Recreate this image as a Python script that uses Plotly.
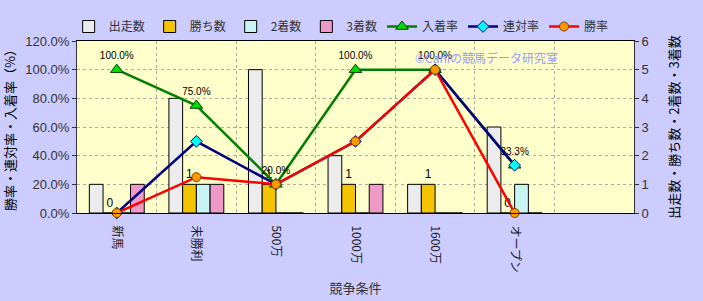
import plotly.graph_objects as go

categories = ["新馬", "未勝利", "500万", "1000万", "1600万", "オープン"]
starts = [1, 4, 5, 2, 1, 3]
wins = [0, 1, 1, 1, 1, 0]
seconds = [0, 1, 0, 0, 0, 1]
thirds = [1, 1, 0, 1, 0, 0]
place_rate = [100.0, 75.0, 20.0, 100.0, 100.0, 33.3]
quinella_rate = [0.0, 50.0, 20.0, 50.0, 100.0, 33.3]
win_rate = [0.0, 25.0, 20.0, 50.0, 100.0, 0.0]

FONT = "Liberation Sans, Noto Sans CJK JP, sans-serif"
JFONT = "Noto Sans CJK JP, sans-serif"

fig = go.Figure()
bar_specs = [
    ("出走数", starts, "#ECECEC"),
    ("勝ち数", wins, "#F5C400"),
    ("2着数", seconds, "#C8F4F4"),
    ("3着数", thirds, "#EE99C8"),
]
for name, vals, col in bar_specs:
    kw = {}
    if name == "勝ち数":
        kw = dict(text=[str(v) for v in vals], textposition="outside",
                  textfont=dict(size=12, color="#000000", family=FONT))
    fig.add_trace(go.Bar(x=categories, y=vals, name=name,
                         marker=dict(color=col, line=dict(color="#000000", width=1)),
                         yaxis="y", cliponaxis=False, **kw))

fig.add_trace(go.Scatter(x=categories, y=place_rate, name="入着率", mode="lines+markers+text",
                         line=dict(color="#008000", width=2.5),
                         marker=dict(symbol="triangle-up", size=11, color="#00E000", line=dict(color="#004000", width=1)),
                         text=[f"{v:.1f}%" for v in place_rate], textposition="top center",
                         textfont=dict(size=10, color="#000000", family=FONT),
                         yaxis="y2", cliponaxis=False))
fig.add_trace(go.Scatter(x=categories, y=quinella_rate, name="連対率", mode="lines+markers",
                         line=dict(color="#000080", width=2.5),
                         marker=dict(symbol="diamond", size=9, color="#00FFFF", line=dict(color="#000080", width=1)),
                         yaxis="y2", cliponaxis=False))
fig.add_trace(go.Scatter(x=categories, y=win_rate, name="勝率", mode="lines+markers",
                         line=dict(color="#FF0000", width=2.5),
                         marker=dict(symbol="circle", size=9, color="#FF9900", line=dict(color="#804000", width=1)),
                         yaxis="y2", cliponaxis=False))

fig.update_layout(
    width=703, height=301,
    margin=dict(l=77, r=69, t=25, b=88),
    paper_bgcolor="#CCCCFF",
    plot_bgcolor="#FFFFCC",
    font=dict(family=FONT, size=12, color="#333333"),
    barmode="group", bargap=0.31, bargroupgap=0,
    showlegend=True,
    legend=dict(orientation="h", x=-0.015, y=1.0, xanchor="left", yanchor="bottom",
                font=dict(family=JFONT, size=12, color="#333333"), bgcolor="rgba(0,0,0,0)",
                traceorder="normal", itemwidth=30, tracegroupgap=0),
    xaxis=dict(type="category", categoryorder="array", categoryarray=categories,
               range=[-0.5, 6.5], tickson="boundaries", showgrid=True, gridcolor="#ABABAB", griddash="dot",
               tickangle=90, tickfont=dict(family=JFONT, size=12, color="#222222"),
               ticklabelstandoff=9, automargin=False,
               showline=True, linecolor="#000000", linewidth=1, mirror=True,
               ticks="", title=dict(text="競争条件", font=dict(family=JFONT, size=13, color="#333333"), standoff=12)),
    yaxis=dict(side="right", range=[0, 6], dtick=1, showgrid=True, gridcolor="#ABABAB", griddash="dot",
               ticks="outside", ticklen=4, tickcolor="#333333", automargin=False,
               showline=True, linecolor="#333333", zeroline=False,
               tickfont=dict(size=13, color="#333333"),
               title=dict(text="出走数・勝ち数・2着数・3着数", font=dict(family=JFONT, size=13, color="#000000"), standoff=22)),
    yaxis2=dict(side="left", overlaying="y", range=[0, 120], dtick=20, tickformat=".1f", ticksuffix="%",
                showgrid=False, zeroline=False, ticks="outside", ticklen=4, tickcolor="#333333", automargin=False,
                showline=True, linecolor="#333333",
                tickfont=dict(size=13, color="#333333"),
                title=dict(text="勝率・連対率・入着率（%）", font=dict(family=JFONT, size=13, color="#000000"), standoff=8)),
    annotations=[dict(text="©Caniの競馬データ研究室", xref="paper", yref="paper", x=0.603, y=0.904,
                      xanchor="left", yanchor="middle", showarrow=False,
                      font=dict(family=JFONT, size=12, color="#9999FF"))],
)

fig.write_html("out.html")
